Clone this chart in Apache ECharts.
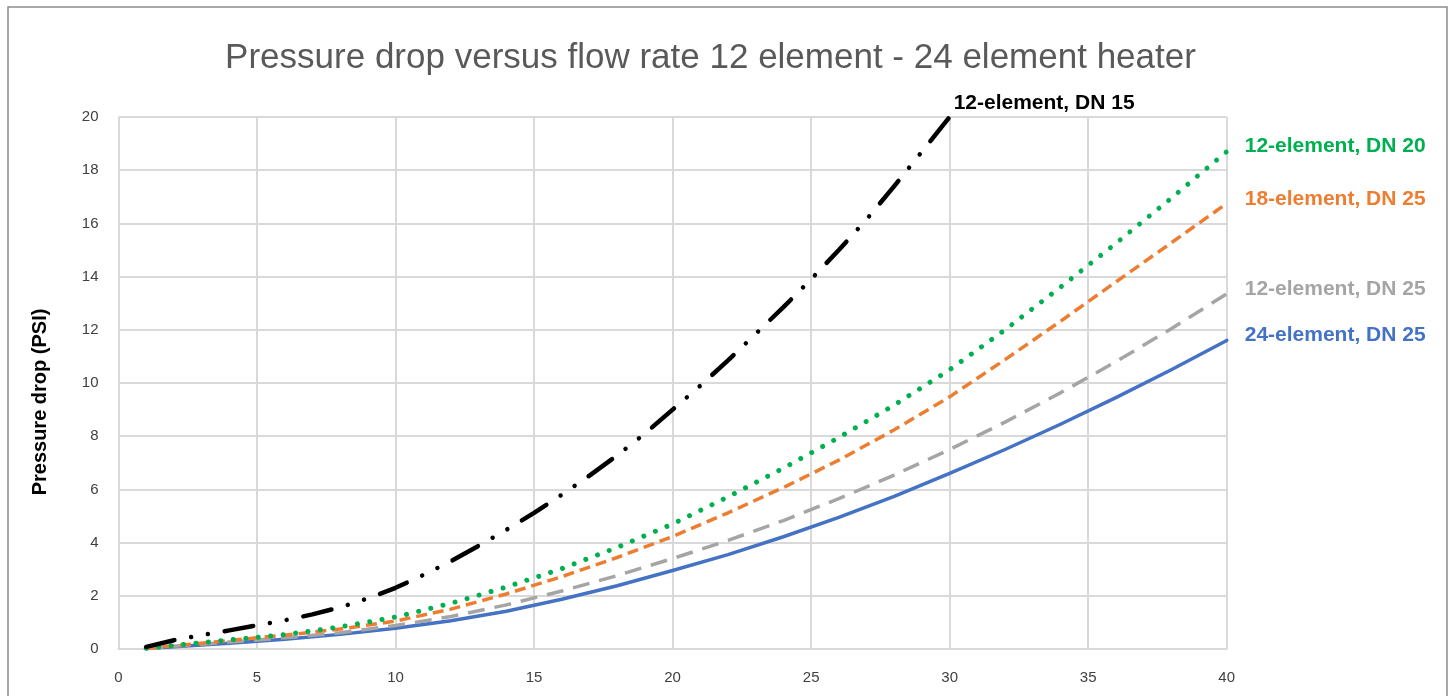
<!DOCTYPE html>
<html>
<head>
<meta charset="utf-8">
<title>Pressure drop versus flow rate</title>
<script src="https://cdn.jsdelivr.net/npm/echarts@6/dist/echarts.min.js"></script>
<style>
  html, body { margin: 0; padding: 0; background: #ffffff; }
  #chart { width: 1454px; height: 696px; }
</style>
</head>
<body>
<div id="chart"></div>
<script>
// Flow rate sample points (x axis)
const flowRate = [1, 2, 3, 4, 5, 6, 8, 10, 12, 14, 16, 18, 20, 22, 24, 26, 28, 30, 32, 34, 36, 38, 40];
const flowRateDN15 = [1, 2, 3, 4, 5, 6, 7, 8, 9, 10, 11, 12, 13, 14, 15, 16, 17, 18, 19, 20, 21, 22, 23, 24, 25, 26, 27, 28, 29, 30];

// Pressure drop (PSI) per heater configuration
const el12DN15 = [0.08, 0.33, 0.52, 0.7, 0.89, 1.08, 1.3, 1.57, 1.9, 2.3, 2.78, 3.3, 3.88, 4.48, 5.12, 5.8, 6.52, 7.28, 8.1, 9.0, 9.9, 10.85, 11.85, 12.85, 13.9, 15.0, 16.15, 17.4, 18.7, 20.0];
const el12DN20 = [0.03, 0.13, 0.24, 0.34, 0.44, 0.54, 0.83, 1.2, 1.72, 2.33, 3.02, 3.82, 4.7, 5.72, 6.8, 7.95, 9.17, 10.5, 12.0, 13.6, 15.25, 16.95, 18.7];
const el18DN25 = [0.03, 0.12, 0.22, 0.32, 0.42, 0.52, 0.75, 1.05, 1.5, 2.07, 2.72, 3.44, 4.23, 5.12, 6.07, 7.1, 8.24, 9.48, 10.88, 12.32, 13.8, 15.27, 16.75];
const el12DN25 = [0.02, 0.1, 0.18, 0.26, 0.34, 0.42, 0.61, 0.88, 1.22, 1.66, 2.18, 2.76, 3.4, 4.08, 4.83, 5.65, 6.54, 7.5, 8.53, 9.63, 10.8, 12.04, 13.35];
const el24DN25 = [0.02, 0.08, 0.15, 0.22, 0.29, 0.37, 0.55, 0.78, 1.06, 1.42, 1.87, 2.38, 2.95, 3.55, 4.22, 4.95, 5.74, 6.6, 7.5, 8.45, 9.45, 10.5, 11.6];

const seriesNames = ['12-element, DN 15', '12-element, DN 20', '18-element, DN 25', '12-element, DN 25', '24-element, DN 25'];
const chartTitle = 'Pressure drop versus flow rate 12 element - 24 element heater';
const yAxisTitle = 'Pressure drop (PSI)';

const pairs = (xs, ys) => ys.map((y, i) => [xs[i], y]);

const labelFont = '"Liberation Sans", Arial, sans-serif';

function lineSeries(name, xs, ys, color, style, labelOffset) {
  return {
    name: name,
    type: 'line',
    data: pairs(xs, ys),
    smooth: false,
    showSymbol: false,
    symbol: 'none',
    clip: false,
    lineStyle: Object.assign({ color: color, join: 'round' }, style),
    endLabel: {
      show: true,
      formatter: '{a}',
      color: color,
      fontFamily: labelFont,
      fontWeight: 'bold',
      fontSize: 21,
      distance: 18,
      offset: labelOffset
    }
  };
}

const chart = echarts.init(document.getElementById('chart'), null, { renderer: 'canvas' });

chart.setOption({
  animation: false,
  backgroundColor: '#ffffff',
  grid: { left: 118.5, right: 227.3, top: 117, bottom: 47, containLabel: false },
  xAxis: {
    type: 'value',
    min: 0, max: 40, interval: 5,
    axisLine: { show: true, lineStyle: { color: '#d9d9d9', width: 2 } },
    axisTick: { show: false },
    axisLabel: { color: '#404040', fontSize: 15, fontFamily: labelFont, margin: 21 },
    splitLine: { show: true, lineStyle: { color: '#d9d9d9', width: 2 } }
  },
  yAxis: {
    type: 'value',
    min: 0, max: 20, interval: 2,
    axisLine: { show: false },
    axisTick: { show: false },
    axisLabel: { color: '#404040', fontSize: 15, fontFamily: labelFont, margin: 20 },
    splitLine: { show: true, lineStyle: { color: '#d9d9d9', width: 2 } }
  },
  series: [
    lineSeries(seriesNames[4], flowRate, el24DN25, '#4472C4', { width: 3.5, type: 'solid', cap: 'round' }, [0, -5]),
    lineSeries(seriesNames[3], flowRate, el12DN25, '#A5A5A5', { width: 3.5, type: [17, 10], cap: 'butt' }, [0, -5]),
    lineSeries(seriesNames[2], flowRate, el18DN25, '#ED7D31', { width: 3.5, type: [11, 6], cap: 'butt' }, [0, -4]),
    lineSeries(seriesNames[1], flowRate, el12DN20, '#00B050', { width: 5, type: [0.01, 12.5], cap: 'round' }, [0, -5]),
    lineSeries(seriesNames[0], flowRateDN15, el12DN15, '#000000', { width: 4.5, type: [29, 17, 0.01, 17, 0.01, 17], cap: 'round' }, [-14, -14])
  ],
  graphic: [
    {
      type: 'rect',
      silent: true,
      shape: { x: 8, y: 7, width: 1439, height: 700 },
      style: { fill: 'none', stroke: '#8c8c8c', lineWidth: 1.5 }
    },
    {
      type: 'text',
      silent: true,
      x: 710.5, y: 58,
      style: {
        text: chartTitle,
        fill: '#595959',
        font: '35px "Liberation Sans", Arial, sans-serif',
        align: 'center',
        verticalAlign: 'middle'
      }
    },
    {
      type: 'text',
      silent: true,
      x: 40, y: 402,
      rotation: Math.PI / 2,
      style: {
        text: yAxisTitle,
        fill: '#000000',
        font: 'bold 20px "Liberation Sans", Arial, sans-serif',
        align: 'center',
        verticalAlign: 'middle'
      }
    }
  ]
});
</script>
</body>
</html>
